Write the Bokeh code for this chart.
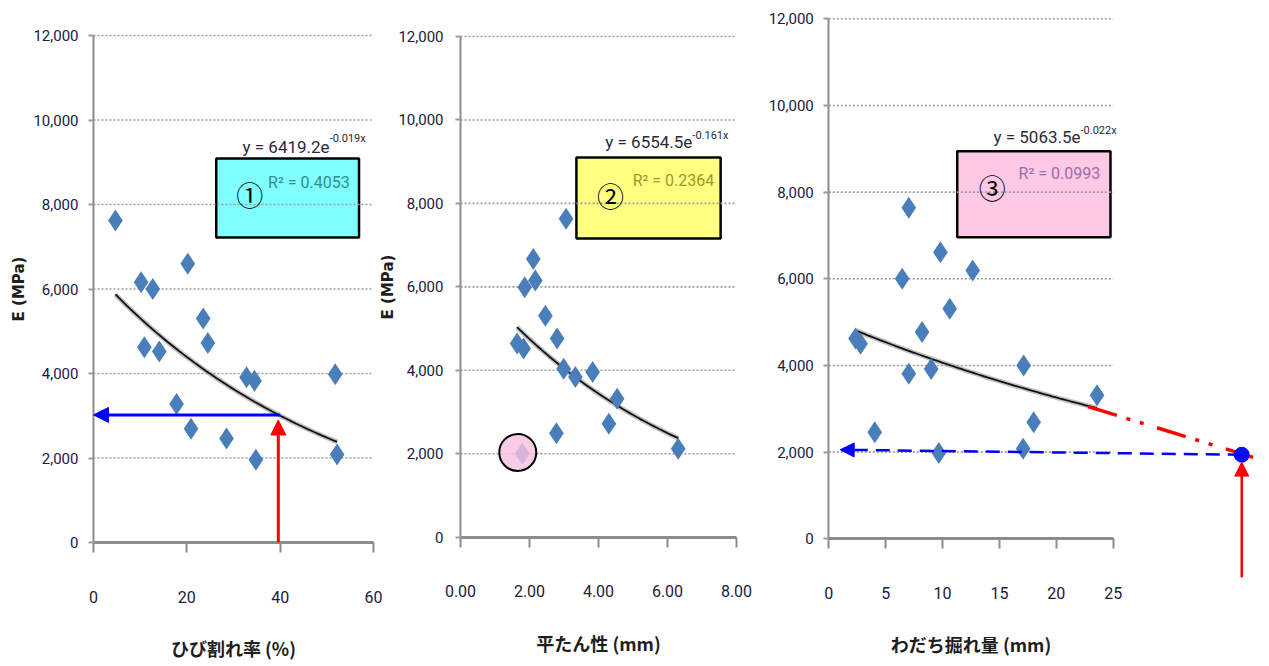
import numpy as np
from bokeh.plotting import figure
from bokeh.models import (Arrow, NormalHead, Label, BoxAnnotation, FixedTicker,
                          NumeralTickFormatter, Range1d, LinearAxis)
from bokeh.embed import file_html
from bokeh.resources import INLINE

# ---------------- data ----------------
y_ticks = [0, 2000, 4000, 6000, 8000, 10000, 12000]

# panel 1 : crack ratio (%)
crack_x = [4.7, 10.2, 12.7, 20.2, 23.5, 10.9, 14.1, 24.5, 17.8, 20.9, 28.5, 32.8, 34.5, 34.8, 51.8, 52.2]
crack_E = [7620, 6160, 6000, 6600, 5300, 4620, 4520, 4720, 3280, 2690, 2460, 3910, 3830, 1960, 3980, 2080]
crack_ticks = [0, 20, 40, 60]
crack_fit = (6419.2, -0.019)
crack_r2 = "0.4053"
crack_target = (40, 3020)

# panel 2 : flatness (mm)
flat_x = [3.06, 2.11, 1.86, 2.17, 2.46, 1.64, 1.83, 2.80, 2.99, 3.33, 3.83, 4.54, 4.30, 2.78, 1.79, 6.31]
flat_E = [7630, 6670, 5990, 6150, 5310, 4640, 4520, 4760, 4040, 3840, 3960, 3320, 2720, 2490, 2000, 2120]
flat_ticks = [0, 2, 4, 6, 8]
flat_fit = (6554.5, -0.161)
flat_r2 = "0.2364"
flat_outlier = (1.66, 2030)

# panel 3 : rut depth (mm)
rut_x = [7.03, 9.81, 6.45, 12.65, 10.63, 8.2, 2.35, 2.79, 7.03, 9.0, 17.13, 23.58, 18.01, 4.04, 9.67, 17.08]
rut_E = [7640, 6610, 6000, 6190, 5310, 4770, 4620, 4500, 3810, 3920, 4000, 3310, 2690, 2460, 1980, 2080]
rut_ticks = [0, 5, 10, 15, 20, 25]
rut_fit = (5063.5, -0.022)
rut_r2 = "0.0993"
rut_extrap_x = [22.8, 37.3]
rut_extrap_E = [3050, 1880]
rut_pred = (36.3, 1940)

# ---------------- styles / layout ----------------
FONT = "Roboto"
JP = "Noto Sans CJK JP"
TICK_COLOR = "#20203c"
AXIS_GRAY = "#8c8c8c"
GRID_GRAY = "#9c9c9c"
PT_COLOR = "#4A7EBB"
W, H = 1269, 666


def panel_ranges(x_org, x_ppu, y_org, y_ppu):
    """x_org / y_org: canvas pixel of the data origin (y from the top);
    x_ppu / y_ppu: pixels per data unit."""
    xr = Range1d(-x_org / x_ppu, (W - x_org) / x_ppu)
    yr = Range1d(-(H - y_org) / y_ppu, y_org / y_ppu)
    return xr, yr


x1r, y1r = panel_ranges(93, 280 / 60, 542, 507 / 12000)
x2r, y2r = panel_ranges(460, 276 / 8, 536.7, 500.7 / 12000)
x3r, y3r = panel_ranges(828.3, 284.4 / 25, 538.3, 520 / 12000)

p = figure(width=W, height=H, x_range=x1r, y_range=y1r, x_axis_type=None, y_axis_type=None,
           output_backend="svg", toolbar_location=None,
           min_border_left=0, min_border_right=0, min_border_top=0, min_border_bottom=0)
p.extra_x_ranges = {"x2": x2r, "x3": x3r}
p.extra_y_ranges = {"y2": y2r, "y3": y3r}
p.outline_line_color = None
p.background_fill_color = "white"
p.border_fill_color = "white"


def add_axes(xn, yn, x_max, xticks, xfmt, xlabel, ylabel, ylab_standoff, ytick_standoff):
    xa = LinearAxis(x_range_name=xn, y_range_name=yn, fixed_location=0, bounds=(0, x_max),
                    ticker=FixedTicker(ticks=xticks), formatter=NumeralTickFormatter(format=xfmt))
    xa.axis_line_color = AXIS_GRAY
    xa.axis_line_width = 3
    xa.major_tick_out = 10
    xa.major_tick_in = 0
    xa.major_tick_line_color = AXIS_GRAY
    xa.major_tick_line_width = 2
    xa.minor_tick_line_color = None
    xa.major_label_text_font = FONT
    xa.major_label_text_font_size = "16px"
    xa.major_label_text_color = TICK_COLOR
    xa.major_label_standoff = 38
    xa.axis_label = xlabel
    xa.axis_label_text_font = JP
    xa.axis_label_text_font_style = "bold"
    xa.axis_label_text_font_size = "18px"
    xa.axis_label_text_color = "#1e1e1e"
    xa.axis_label_standoff = 29
    p.add_layout(xa, "below")

    ya = LinearAxis(x_range_name=xn, y_range_name=yn, fixed_location=0, bounds=(0, 12000),
                    ticker=FixedTicker(ticks=y_ticks), formatter=NumeralTickFormatter(format="0,0"))
    ya.axis_line_color = AXIS_GRAY
    ya.axis_line_width = 2
    ya.major_tick_out = 5
    ya.major_tick_in = 0
    ya.major_tick_line_color = GRID_GRAY
    ya.major_tick_line_width = 2
    ya.minor_tick_line_color = None
    ya.major_label_text_font = FONT
    ya.major_label_text_font_size = "15px"
    ya.major_label_text_color = TICK_COLOR
    ya.major_label_standoff = ytick_standoff
    if ylabel:
        ya.axis_label = ylabel
        ya.axis_label_text_font = "DejaVu Sans"
        ya.axis_label_text_font_style = "bold"
        ya.axis_label_text_font_size = "15px"
        ya.axis_label_text_color = "#1e1e1e"
        ya.axis_label_standoff = ylab_standoff
    p.add_layout(ya, "left")

    # dotted horizontal grid lines spanning the x axis
    p.segment(x0=0, x1=x_max, y0=y_ticks[1:], y1=y_ticks[1:], x_range_name=xn, y_range_name=yn,
              line_color=GRID_GRAY, line_width=1.6, line_dash="2 2")


def add_points_and_fit(xn, yn, xs, ys, fit):
    a, b = fit
    tx = np.linspace(min(xs), max(xs), 60)
    ty = a * np.exp(b * tx)
    p.line(tx, ty, x_range_name=xn, y_range_name=yn, line_color="#9a9a9a", line_width=5, line_alpha=0.6)
    p.line(tx, ty, x_range_name=xn, y_range_name=yn, line_color="#111111", line_width=1.8)
    p.scatter(xs, ys, x_range_name=xn, y_range_name=yn, marker="diamond", size=22,
              fill_color=PT_COLOR, line_color=None)


def add_box(xn, yn, left, right, bottom, top, color, num, r2, r2_color, num_x, num_y,
            r2_x, r2_y, fit, eq_x, eq_y, sup_y):
    rn = dict(x_range_name=xn, y_range_name=yn)
    p.add_layout(BoxAnnotation(left=left, right=right, bottom=bottom, top=top,
                               fill_color=color, fill_alpha=1.0, line_color="black",
                               line_alpha=1.0, line_width=2.5, level="underlay", **rn))
    p.add_layout(Label(x=num_x, y=num_y, text=num, text_font=JP, text_font_size="27px",
                       text_color="black", text_align="center", text_baseline="middle", **rn))
    p.add_layout(Label(x=r2_x, y=r2_y, text="R\u00b2 = " + r2, text_font=FONT,
                       text_font_size="16px", text_color=r2_color, text_align="left",
                       text_baseline="middle", **rn))
    p.add_layout(Label(x=eq_x, y=eq_y, text="y = %.1fe" % fit[0], text_font=FONT,
                       text_font_size="17px", text_color="#2a2a3a", text_align="right",
                       text_baseline="alphabetic", **rn))
    p.add_layout(Label(x=eq_x, y=sup_y, text="%.3fx" % fit[1], text_font=FONT,
                       text_font_size="11px", text_color="#2a2a3a", text_align="left",
                       text_baseline="middle", **rn))


# ---------------- panel 1 ----------------
add_axes("default", "default", 60, crack_ticks, "0", "ひび割れ率 (%)", "E (MPa)", 2, 10)
add_points_and_fit("default", "default", crack_x, crack_E, crack_fit)
add_box("default", "default", 26.3, 56.9, 7220, 9090, "#80FFFF", "①", crack_r2, "#2f8f8f",
        33.5, 8240, 37.4, 8520, crack_fit, 50.6, 9372, 9570)
p.add_layout(Arrow(end=NormalHead(size=15, fill_color="#0000ff", line_color="#0000ff"),
                   x_start=crack_target[0], y_start=crack_target[1], x_end=0, y_end=crack_target[1],
                   line_color="#0000ff", line_width=3))
p.add_layout(Arrow(end=NormalHead(size=15, fill_color="#ff0000", line_color="#ff0000"),
                   x_start=crack_target[0] - 0.4, y_start=0, x_end=crack_target[0] - 0.4,
                   y_end=crack_target[1] - 120, line_color="#ff0000", line_width=3))

# ---------------- panel 2 ----------------
add_axes("x2", "y2", 8, flat_ticks, "0.00", "平たん性 (mm)", "E (MPa)", -2, 12)
add_points_and_fit("x2", "y2", flat_x, flat_E, flat_fit)
p.scatter([flat_outlier[0]], [flat_outlier[1]], x_range_name="x2", y_range_name="y2",
          marker="circle", size=37, fill_color="#F7BFE0", fill_alpha=0.82,
          line_color="black", line_width=2)
add_box("x2", "y2", 3.36, 7.54, 7160, 9100, "#FFFF80", "②", flat_r2, "#9a9a2a",
        4.35, 8190, 4.99, 8550, flat_fit, 6.72, 9460, 9628)

# ---------------- panel 3 ----------------
add_axes("x3", "y3", 25, rut_ticks, "0", "わだち掘れ量 (mm)", None, 0, 10)
add_points_and_fit("x3", "y3", rut_x, rut_E, rut_fit)
add_box("x3", "y3", 11.29, 24.76, 6960, 8945, "#FFC8E4", "③", rut_r2, "#9470a8",
        14.36, 8114, 16.68, 8430, rut_fit, 22.13, 9261, 9423)
p.line(rut_extrap_x, rut_extrap_E, x_range_name="x3", y_range_name="y3",
       line_color="#ff0000", line_width=3.5, line_dash="30 10 4 10 4 14")
p.add_layout(Arrow(end=NormalHead(size=14, fill_color="#0000ff", line_color="#0000ff"),
                   x_start=rut_pred[0], y_start=rut_pred[1], x_end=1.0, y_end=rut_pred[1] + 115,
                   line_color="#0000ff", line_width=2.5, line_dash="14 8",
                   x_range_name="x3", y_range_name="y3"))
p.scatter([rut_pred[0]], [rut_pred[1]], x_range_name="x3", y_range_name="y3",
          marker="circle", size=15, fill_color="#0a0aff", line_color="#0a0aff")
p.add_layout(Arrow(end=NormalHead(size=14, fill_color="#ff0000", line_color="#ff0000"),
                   x_start=rut_pred[0], y_start=-890, x_end=rut_pred[0], y_end=rut_pred[1] - 170,
                   line_color="#ff0000", line_width=2.5, x_range_name="x3", y_range_name="y3"))

open("out.html", "w").write(file_html(p, INLINE))
